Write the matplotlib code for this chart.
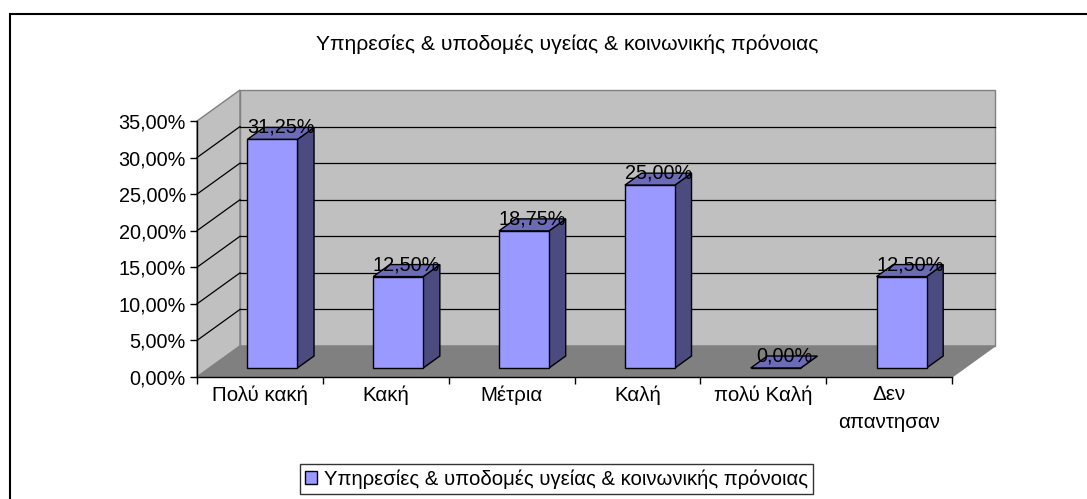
import matplotlib
matplotlib.use("Agg")
import matplotlib.pyplot as plt
from matplotlib.patches import Polygon, Rectangle
import numpy as np

# ---------------- data ----------------
title = "Υπηρεσίες & υποδομές υγείας & κοινωνικής πρόνοιας"
series_name = "Υπηρεσίες & υποδομές υγείας & κοινωνικής πρόνοιας"
categories = ["Πολύ κακή", "Κακή", "Μέτρια", "Καλή", "πολύ Καλή", "Δεν\nαπαντησαν"]
values = [31.25, 12.50, 18.75, 25.00, 0.00, 12.50]
y_ticks = [0, 5, 10, 15, 20, 25, 30, 35]
y_tick_labels = ["0,00%", "5,00%", "10,00%", "15,00%", "20,00%", "25,00%", "30,00%", "35,00%"]

# ---------------- style ----------------
W, H = 1087, 499
plt.rcParams['font.family'] = ['Liberation Sans', 'DejaVu Sans']
FS = 14.3
FS_CAT = 14.8
FS_TITLE = 15.2
FS_LEG = 14.6
FRONT = '#9999FF'
SIDE = '#4B4B7F'
TOP = '#6B6BB8'
WALL = '#C0C0C0'
FLOOR = '#808080'
EDGE_GRAY = '#808080'

fig = plt.figure(figsize=(W / 100, H / 100), dpi=100)
ax_l, ax_r, ax_t, ax_b = 197, 952, 121, 377
ax = fig.add_axes([ax_l / W, 1 - ax_b / H, (ax_r - ax_l) / W, (ax_b - ax_t) / H])
n = len(categories)
YMAX = y_ticks[-1]
ax.set_xlim(0, n)
ax.set_ylim(0, YMAX)
ax.patch.set_visible(False)

px_per_u = (ax_r - ax_l) / n
px_per_v = (ax_b - ax_t) / YMAX
DX = 43 / px_per_u   # depth offset (x, data units)
DY = 31 / px_per_v   # depth offset (y, data units)

# walls and floor
left_wall = Polygon([(0, 0), (DX, DY), (DX, YMAX + DY), (0, YMAX)], closed=True,
                    facecolor=WALL, edgecolor=EDGE_GRAY, lw=1, zorder=1, clip_on=False)
back_wall = Polygon([(DX, DY), (n + DX, DY), (n + DX, YMAX + DY), (DX, YMAX + DY)], closed=True,
                    facecolor=WALL, edgecolor=EDGE_GRAY, lw=1, zorder=1, clip_on=False)
floor = Polygon([(0, 0), (n, 0), (n + DX, DY), (DX, DY)], closed=True,
                facecolor=FLOOR, edgecolor=EDGE_GRAY, lw=1, zorder=1.5, clip_on=False)
for p in (left_wall, back_wall, floor):
    ax.add_patch(p)

# gridlines
for v in y_ticks[1:-1]:
    ax.plot([DX, n + DX], [v + DY, v + DY], color='black', lw=0.9, zorder=2, clip_on=False)
    ax.plot([0, DX], [v, v + DY], color='black', lw=0.9, zorder=2, clip_on=False)

# bars
f0, f1 = 0.29, 0.677
BW = 50 / px_per_u
base = f0 * DY
xc = np.arange(n) + 0.5 + f0 * DX
ddx = (f1 - f0) * DX
ddy = (f1 - f0) * DY
bars = ax.bar(xc, values, width=BW, bottom=base, color=FRONT, edgecolor='black',
              linewidth=1, label=series_name, zorder=5)
for x, v in zip(xc, values):
    xl, xr = x - BW / 2, x + BW / 2
    top = base + v
    side = Polygon([(xr, base), (xr + ddx, base + ddy), (xr + ddx, top + ddy), (xr, top)],
                   closed=True, facecolor=SIDE, edgecolor='black', lw=1, zorder=4)
    topp = Polygon([(xl, top), (xr, top), (xr + ddx, top + ddy), (xl + ddx, top + ddy)],
                   closed=True, facecolor=TOP, edgecolor='black', lw=1, zorder=4.5)
    ax.add_patch(side)
    ax.add_patch(topp)
    ax.text(x + ddx / 2, top + ddy, f"{v:.2f}%".replace('.', ','), ha='center', va='center',
            fontsize=FS, zorder=6)

# axes lines and ticks
for s in ('top', 'right'):
    ax.spines[s].set_visible(False)
for s in ('left', 'bottom'):
    ax.spines[s].set_color('black')
    ax.spines[s].set_linewidth(1)
    ax.spines[s].set_zorder(3)
ax.set_yticks(y_ticks, y_tick_labels)
ax.tick_params(axis='y', length=5, width=1, pad=3, labelsize=FS)
ax.set_xticks(np.arange(n) + 0.5, categories)
ax.set_xticks(np.arange(n + 1), minor=True)
ax.tick_params(axis='x', which='major', length=0, pad=6, labelsize=FS_CAT)
ax.tick_params(axis='x', which='minor', length=5, width=1)
for lab in ax.get_xticklabels():
    lab.set_linespacing(1.55)

# title
fig.text(567 / W, 1 - 44 / H, title, ha='center', va='center', fontsize=FS_TITLE)

# legend
leg = fig.legend(handles=[bars], labels=[series_name], loc='upper left',
                 bbox_to_anchor=(300 / W, 1 - 464 / H), bbox_transform=fig.transFigure,
                 frameon=True, fancybox=False, edgecolor='black', fontsize=FS_LEG,
                 handlelength=0.6, handleheight=0.6, handletextpad=0.35,
                 borderpad=0.25, borderaxespad=0)
leg.get_frame().set_linewidth(1)

# outer chart border
fig.add_artist(Rectangle((10 / W, -0.2), 1.5, 1 - 14 / H + 0.2, transform=fig.transFigure,
                         fill=False, edgecolor='black', lw=1.5))

fig.savefig('out.png', dpi=100)
